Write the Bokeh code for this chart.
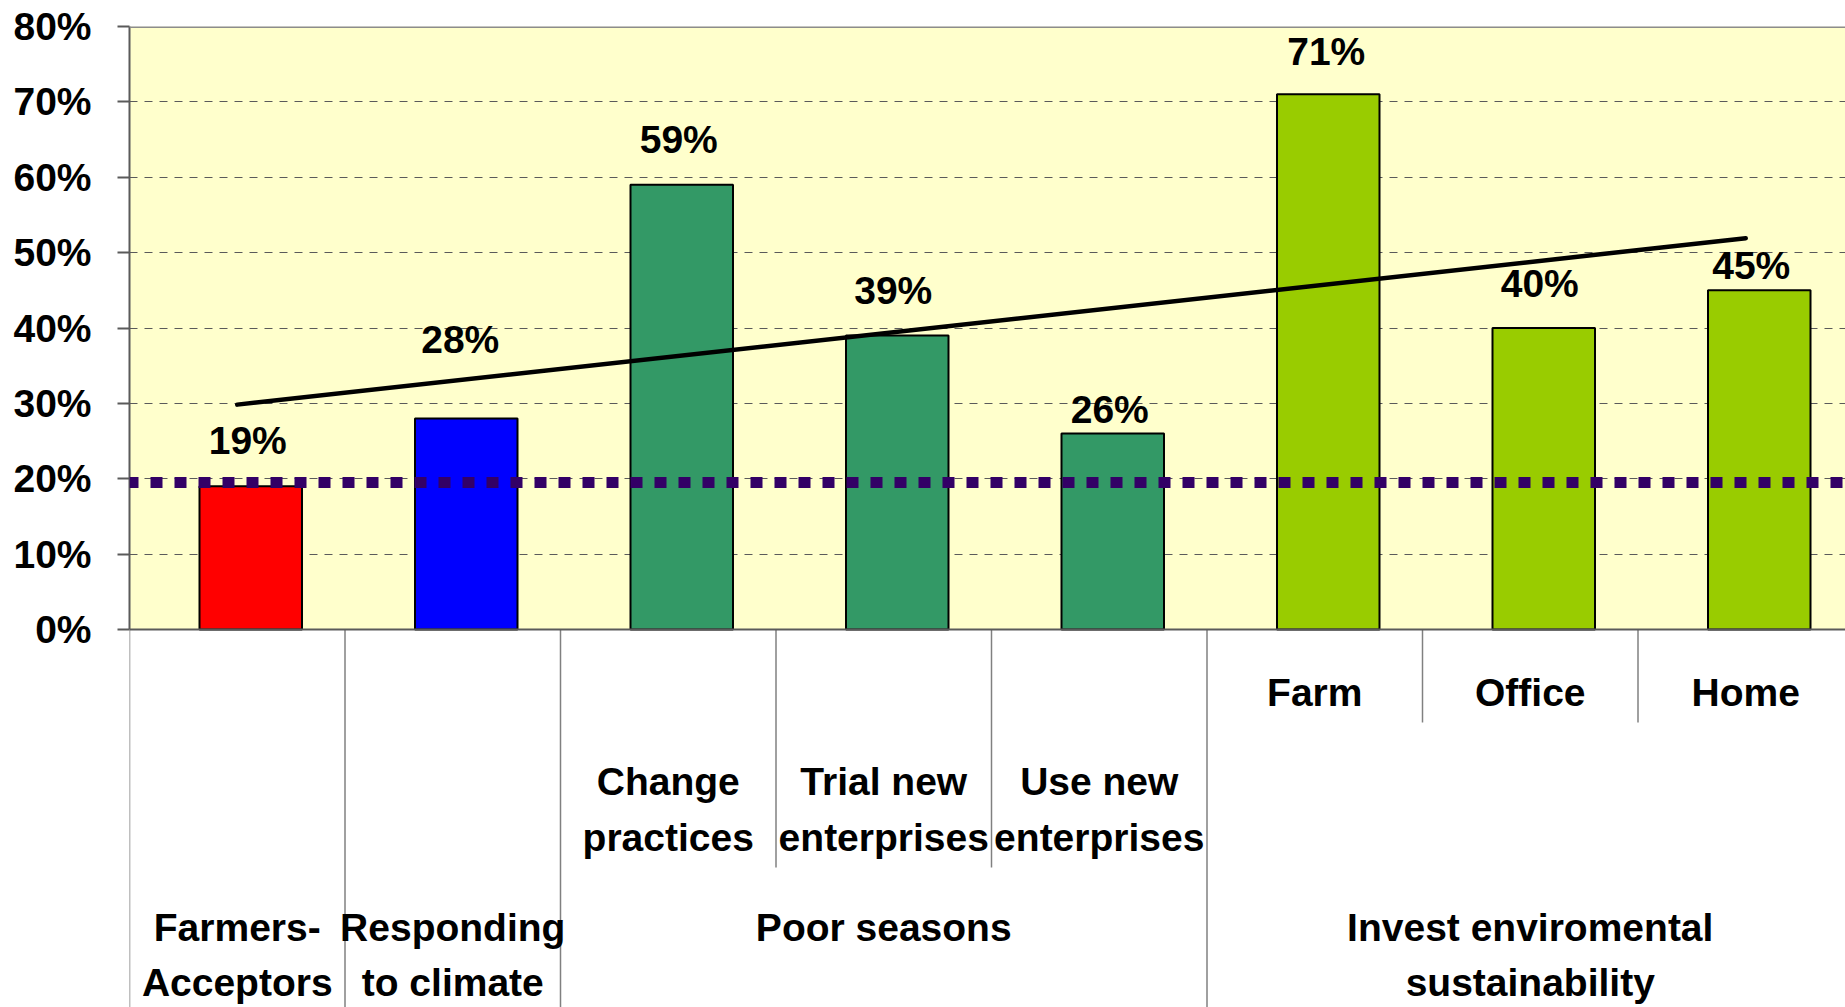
import numpy as np
from bokeh.plotting import figure
from bokeh.models import Range1d, FixedTicker, BoxAnnotation, Span
from bokeh.core.properties import value
from bokeh.embed import file_html
from bokeh.resources import INLINE

# ---------------- data ----------------
values = [19, 28, 59, 39, 26, 71, 40, 45]
value_labels = ["19%", "28%", "59%", "39%", "26%", "71%", "40%", "45%"]
level1_labels = ["", "", "", "", "", "Farm", "Office", "Home"]
level2_labels = [[], [], ["Change", "practices"], ["Trial new", "enterprises"],
                 ["Use new", "enterprises"], [], [], []]
group_labels = [["Farmers-", "Acceptors"], ["Responding", "to climate"],
                ["Poor seasons"], ["Invest enviromental", "sustainability"]]
group_spans = [(0, 1), (1, 2), (2, 5), (5, 8)]
threshold = 19.5
tick_values = [0, 10, 20, 30, 40, 50, 60, 70, 80]
tick_labels = ["0%", "10%", "20%", "30%", "40%", "50%", "60%", "70%", "80%"]

# ---------------- style ----------------
bar_colors = ["#FF0000", "#0000FF", "#339966", "#339966", "#339966",
              "#99CC00", "#99CC00", "#99CC00"]
label_rise = [44.5, 78, 44, 44, 23, 42, 44, 23.5]   # px, cap-centre above bar top
label_dx = [-3, -6, -3, -4, -3, -2, -4, -8]          # px
FONT = "Liberation Sans"
FSIZE = "39px"
TEXT_FIX = 15      # renderer places alphabetic baseline this many px low

W, H = 1845, 1007
LEFT, TOP = 129, 26
PX_PER_PCT = 7.5375
CAT_W = 215.5
frame_h = H - TOP
frame_w = W - LEFT
y_start = 80 - frame_h / PX_PER_PCT
x_end = frame_w / CAT_W
n = len(values)

p = figure(width=W, height=H, output_backend="svg", toolbar_location=None,
           x_range=Range1d(0, x_end), y_range=Range1d(y_start, 80),
           x_axis_location=None, min_border_left=LEFT, min_border_top=TOP,
           min_border_right=0, min_border_bottom=0)
p.outline_line_color = None
p.background_fill_color = "white"
p.border_fill_color = "white"
# pixel range for the category-label area (frame top = 26 px, bottom = 1007 px)
p.extra_y_ranges = {"px": Range1d(start=H, end=TOP)}

# yellow plot area
p.add_layout(BoxAnnotation(bottom=0, top=80, fill_color="#FFFFCC", fill_alpha=1.0,
                           line_color=None, level="image"))

# grid
p.xgrid.visible = False
p.ygrid.ticker = FixedTicker(ticks=tick_values[1:-1])
p.ygrid.grid_line_color = "#5a5a5a"
p.ygrid.grid_line_dash = "8 7"
p.ygrid.grid_line_width = 1

# y axis
ax = p.yaxis[0]
ax.ticker = FixedTicker(ticks=tick_values)
ax.major_label_overrides = {v: l for v, l in zip(tick_values, tick_labels)}
ax.bounds = (0, 80)
ax.axis_line_color = "#5a5a5a"
ax.axis_line_width = 2
ax.major_tick_line_color = "#5a5a5a"
ax.major_tick_line_width = 2
ax.major_tick_out = 12
ax.major_tick_in = 0
ax.minor_tick_line_color = None
ax.major_label_text_font = FONT
ax.major_label_text_font_style = "bold"
ax.major_label_text_font_size = FSIZE
ax.major_label_text_color = "black"
ax.major_label_standoff = 26

# bars
bar_shift = 13.5 / CAT_W
bar_x = np.arange(n) + 0.5 + bar_shift
p.vbar(x=bar_x, top=values, bottom=0, width=102.5 / CAT_W, fill_color=bar_colors,
       line_color="black", line_width=2)

# top border and x axis line
p.add_layout(Span(location=80, dimension="width", line_color="#8c8c8c", line_width=3))
p.add_layout(Span(location=0, dimension="width", line_color="#5a5a5a", line_width=2))

# linear trend line
xs = np.arange(1, n + 1)
slope, icpt = np.polyfit(xs, values, 1)
p.line(x=[0.5, n - 0.5], y=[slope * 1 + icpt, slope * n + icpt], line_color="black",
       line_width=4.5, line_cap="round")

# threshold dotted line
p.add_layout(Span(location=threshold, dimension="width", line_color="#330066",
                  line_width=11, line_dash="12 12", line_dash_offset=3))

# value labels
p.text(x=bar_x, y=values, text=value_labels,
       x_offset=label_dx, y_offset=[-(r - 14) - TEXT_FIX for r in label_rise],
       text_font=value(FONT), text_font_style="bold", text_font_size=FSIZE,
       text_align="center", text_baseline="alphabetic", text_color="black")

# ---------------- hierarchical category axis ----------------
AX_Y, L1_BOTTOM, L2_BOTTOM, FULL_BOTTOM = 629, 722, 867, 1020
group_starts = {a for a, b in group_spans} | {b for a, b in group_spans}
sx, sy0, sy1 = [], [], []
for b in range(0, n + 1):
    if b in group_starts:
        bottom = FULL_BOTTOM
    elif (level2_labels[b - 1] or level2_labels[b]):
        bottom = L2_BOTTOM
    else:
        bottom = L1_BOTTOM
    sx.append(b); sy0.append(AX_Y); sy1.append(bottom)
p.segment(x0=sx, y0=sy0, x1=sx, y1=sy1, y_range_name="px",
          line_color="#808080", line_width=1.5)

tx, ty, tt = [], [], []
for i, lab in enumerate(level1_labels):
    if lab:
        tx.append(i + 0.5); ty.append(707); tt.append(lab)
for i, lines in enumerate(level2_labels):
    for k, ln in enumerate(lines):
        tx.append(i + 0.5); ty.append(796 + 56 * k); tt.append(ln)
for (a, b), lines in zip(group_spans, group_labels):
    for k, ln in enumerate(lines):
        tx.append((a + b) / 2); ty.append(942 + 55 * k); tt.append(ln)
p.text(x=tx, y=[t - TEXT_FIX for t in ty], text=tt, y_range_name="px",
       text_font=value(FONT), text_font_style="bold", text_font_size=FSIZE,
       text_align="center", text_baseline="alphabetic", text_color="black")

open("out.html", "w").write(file_html(p, INLINE))
